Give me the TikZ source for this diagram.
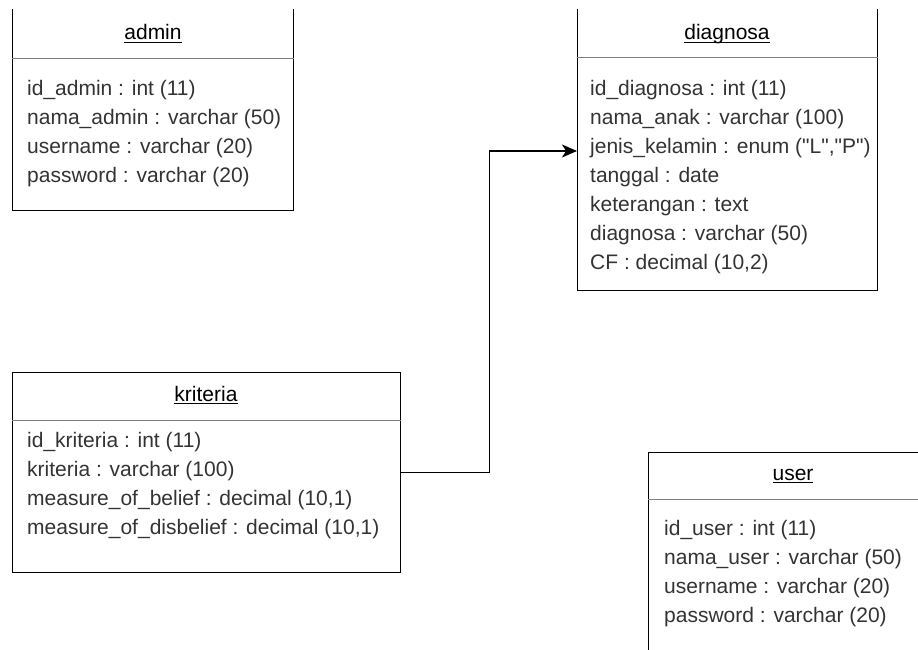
\documentclass[tikz,border=0pt]{standalone}
\usepackage{fontspec}
\setmainfont{Liberation Sans}
\usetikzlibrary{arrows.meta,calc}
% table name with an underline at a fixed depth below the baseline
\newcommand\tblname[1]{\setbox0\hbox{#1}\rlap{\rule[-3.2pt]{\wd0}{1.1pt}}\box0}
\tikzset{
  tbl/.style={draw=black, line width=1.4pt, inner sep=0pt, anchor=north west},
  sep/.style={draw=black!50, line width=0.9pt},
  ttl/.style={font=\fontsize{21}{25}\selectfont, text=black, inner sep=0pt, anchor=base},
  fld/.style={font=\fontsize{21}{25}\selectfont, text=black!80, anchor=west,
              inner sep=0pt, text height=0.75em, text depth=0.25em},
  fk/.style={line width=1.4pt, -{Stealth[length=15pt,width=13pt,inset=4pt]}},
}
\begin{document}
\begin{tikzpicture}[x=1pt,y=-1pt]
\useasboundingbox (0,0) rectangle (918,650);

% table frames (clipped where they run off the sheet)
\begin{scope}
  \clip (0,10) rectangle (918,650);
  \node[tbl, minimum width=281pt, minimum height=230pt] (admin)    at (12,-20)  {};
  \node[tbl, minimum width=300pt, minimum height=310pt] (diagnosa) at (577,-20) {};
  \node[tbl, minimum width=388pt, minimum height=200pt] (kriteria) at (12,372)  {};
  \node[tbl, minimum width=320pt, minimum height=260pt] (user)     at (648,452) {};
  \draw[sep] ([yshift=-78pt]admin.north west)    -- ([yshift=-78pt]admin.north east);
  \draw[sep] ([yshift=-77pt]diagnosa.north west) -- ([yshift=-77pt]diagnosa.north east);
  \draw[sep] ([yshift=-48pt]kriteria.north west) -- ([yshift=-48pt]kriteria.north east);
  \draw[sep] ([yshift=-47pt]user.north west)     -- ([yshift=-47pt]user.north east);
\end{scope}

% admin
\node[ttl] (admint) at (153,40) {\tblname{admin}};
\node[fld] (a1) at (27,93)  {id\_admin : int (11)};
\node[fld] (a2) at (27,122) {nama\_admin : varchar (50)};
\node[fld] (a3) at (27,151) {username : varchar (20)};
\node[fld] (a4) at (27,180) {password : varchar (20)};

% diagnosa
\node[ttl] (diagnosat) at (727,40) {\tblname{diagnosa}};
\node[fld] (d1)  at (590,93)  {id\_diagnosa : int (11)};
\node[fld] (d2)  at (590,122) {nama\_anak : varchar (100)};
\node[fld] (djk) at (590,151) {jenis\_kelamin : enum (\textquotedbl L\textquotedbl,\textquotedbl P\textquotedbl)};
\node[fld] (d4)  at (590,180) {tanggal : date};
\node[fld] (d5)  at (590,209) {keterangan : text};
\node[fld] (d6)  at (590,238) {diagnosa : varchar (50)};
\node[fld] (d7)  at (590,267) {CF : decimal (10,2)};

% kriteria
\node[ttl] (kriteriat) at (206,401) {\tblname{kriteria}};
\node[fld] (k1) at (27,445) {id\_kriteria : int (11)};
\node[fld] (k2) at (27,474) {kriteria : varchar (100)};
\node[fld] (k3) at (27,503) {measure\_of\_belief : decimal (10,1)};
\node[fld] (k4) at (27,532) {measure\_of\_disbelief : decimal (10,1)};

% user
\node[ttl] (usert) at (793,480) {\tblname{user}};
\node[fld] (u1) at (664,533) {id\_user : int (11)};
\node[fld] (u2) at (664,562) {nama\_user : varchar (50)};
\node[fld] (u3) at (664,591) {username : varchar (20)};
\node[fld] (u4) at (664,620) {password : varchar (20)};

% relation kriteria -> diagnosa
\coordinate (dgin) at (diagnosa.west |- djk);
\draw[fk] (kriteria.east) -- ++(88,0) |- (dgin);
\end{tikzpicture}
\end{document}
